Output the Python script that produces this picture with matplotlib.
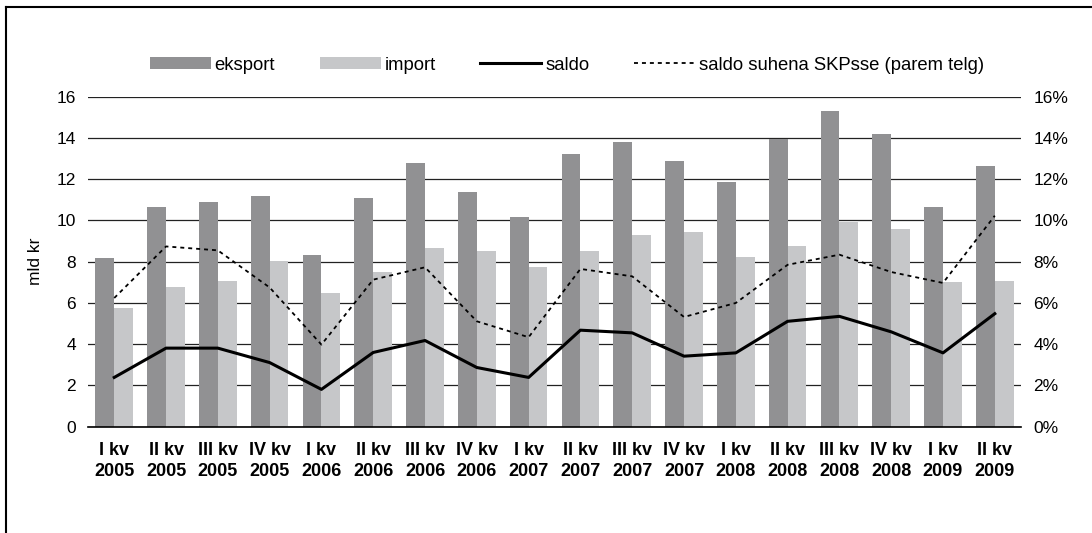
import matplotlib.pyplot as plt
import numpy as np
from matplotlib.lines import Line2D

plt.rcParams['font.family'] = ['Liberation Sans', 'DejaVu Sans']

# Quarter labels
quarters = ['I kv\n2005', 'II kv\n2005', 'III kv\n2005', 'IV kv\n2005',
            'I kv\n2006', 'II kv\n2006', 'III kv\n2006', 'IV kv\n2006',
            'I kv\n2007', 'II kv\n2007', 'III kv\n2007', 'IV kv\n2007',
            'I kv\n2008', 'II kv\n2008', 'III kv\n2008', 'IV kv\n2008',
            'I kv\n2009', 'II kv\n2009']

# Values (mld kr)
eksport = [8.18, 10.66, 10.90, 11.19, 8.34, 11.10, 12.79, 11.39, 10.18,
           13.23, 13.81, 12.89, 11.87, 13.95, 15.31, 14.19, 10.66, 12.65]
import_ = [5.77, 6.79, 7.08, 8.05, 6.50, 7.52, 8.68, 8.53, 7.76,
           8.53, 9.31, 9.45, 8.24, 8.77, 9.94, 9.60, 7.03, 7.08]
saldo = [2.39, 3.81, 3.81, 3.11, 1.81, 3.60, 4.18, 2.87, 2.39,
         4.68, 4.55, 3.42, 3.58, 5.11, 5.35, 4.60, 3.58, 5.48]
# Saldo relative to GDP (%), right axis
saldo_skp = [6.24, 8.74, 8.55, 6.75, 3.98, 7.13, 7.73, 5.11, 4.34,
             7.65, 7.29, 5.32, 6.00, 7.85, 8.34, 7.50, 6.97, 10.23]

def main():
    fig = plt.figure(figsize=(10.92, 5.33), dpi=100)
    ax = fig.add_axes([0.0809, 0.1994, 0.8538, 0.6192])

    x = np.arange(len(quarters))
    w = 0.364

    b1 = ax.bar(x - w / 2, eksport, width=w, color='#919193', label='eksport', zorder=2)
    b2 = ax.bar(x + w / 2, import_, width=w, color='#c6c7c9', label='import', zorder=2)
    l1, = ax.plot(x, saldo, color='black', linewidth=2.2, label='saldo', zorder=3)

    ax.set_xlim(-0.5, len(quarters) - 0.5)
    ax.set_ylim(0, 16)
    ax.set_yticks(range(0, 17, 2))
    ax.set_axisbelow(True)
    ax.yaxis.grid(True, color='#222222', linewidth=0.9)
    for s in ['top', 'right', 'left']:
        ax.spines[s].set_visible(False)
    ax.spines['bottom'].set_color('black')
    ax.spines['bottom'].set_linewidth(1.2)

    ax.set_xticks(x)
    ax.set_xticklabels(quarters, fontsize=13, fontweight='bold', linespacing=1.3)
    ax.tick_params(axis='x', length=0, pad=11)
    ax.tick_params(axis='y', length=0, pad=9, labelsize=12.5)
    ax.set_ylabel('mld kr', fontsize=12.5, labelpad=10)

    # Right axis for percent
    ax2 = ax.twinx()
    l2, = ax2.plot(x, saldo_skp, color='black', linewidth=1.3,
                   linestyle=(0, (2.2, 2.2)), label='saldo suhena SKPsse (parem telg)')
    ax2.set_ylim(0, 16)
    ax2.set_yticks(range(0, 17, 2))
    ax2.set_yticklabels([f'{v}%' for v in range(0, 17, 2)])
    ax2.tick_params(axis='y', length=0, pad=9, labelsize=12.5)
    for s in ax2.spines.values():
        s.set_visible(False)

    fig.legend([b1, b2, l1, l2],
               ['eksport', 'import', 'saldo', 'saldo suhena SKPsse (parem telg)'],
               loc='center', bbox_to_anchor=(0.519, 0.878), ncol=4,
               frameon=False, fontsize=13.3, handlelength=3.3, handleheight=0.55,
               handletextpad=0.22, columnspacing=2.4)

    # Partial frame around the chart (top and left edges)
    fig.add_artist(Line2D([6 / 1092, 1.0], [1 - 7 / 533, 1 - 7 / 533],
                          transform=fig.transFigure, color='black', linewidth=1.5))
    fig.add_artist(Line2D([6 / 1092, 6 / 1092], [0, 1 - 7 / 533],
                          transform=fig.transFigure, color='black', linewidth=1.5))

    fig.savefig('out.png', dpi=100)
    plt.close(fig)

if __name__ == "__main__":
    main()
